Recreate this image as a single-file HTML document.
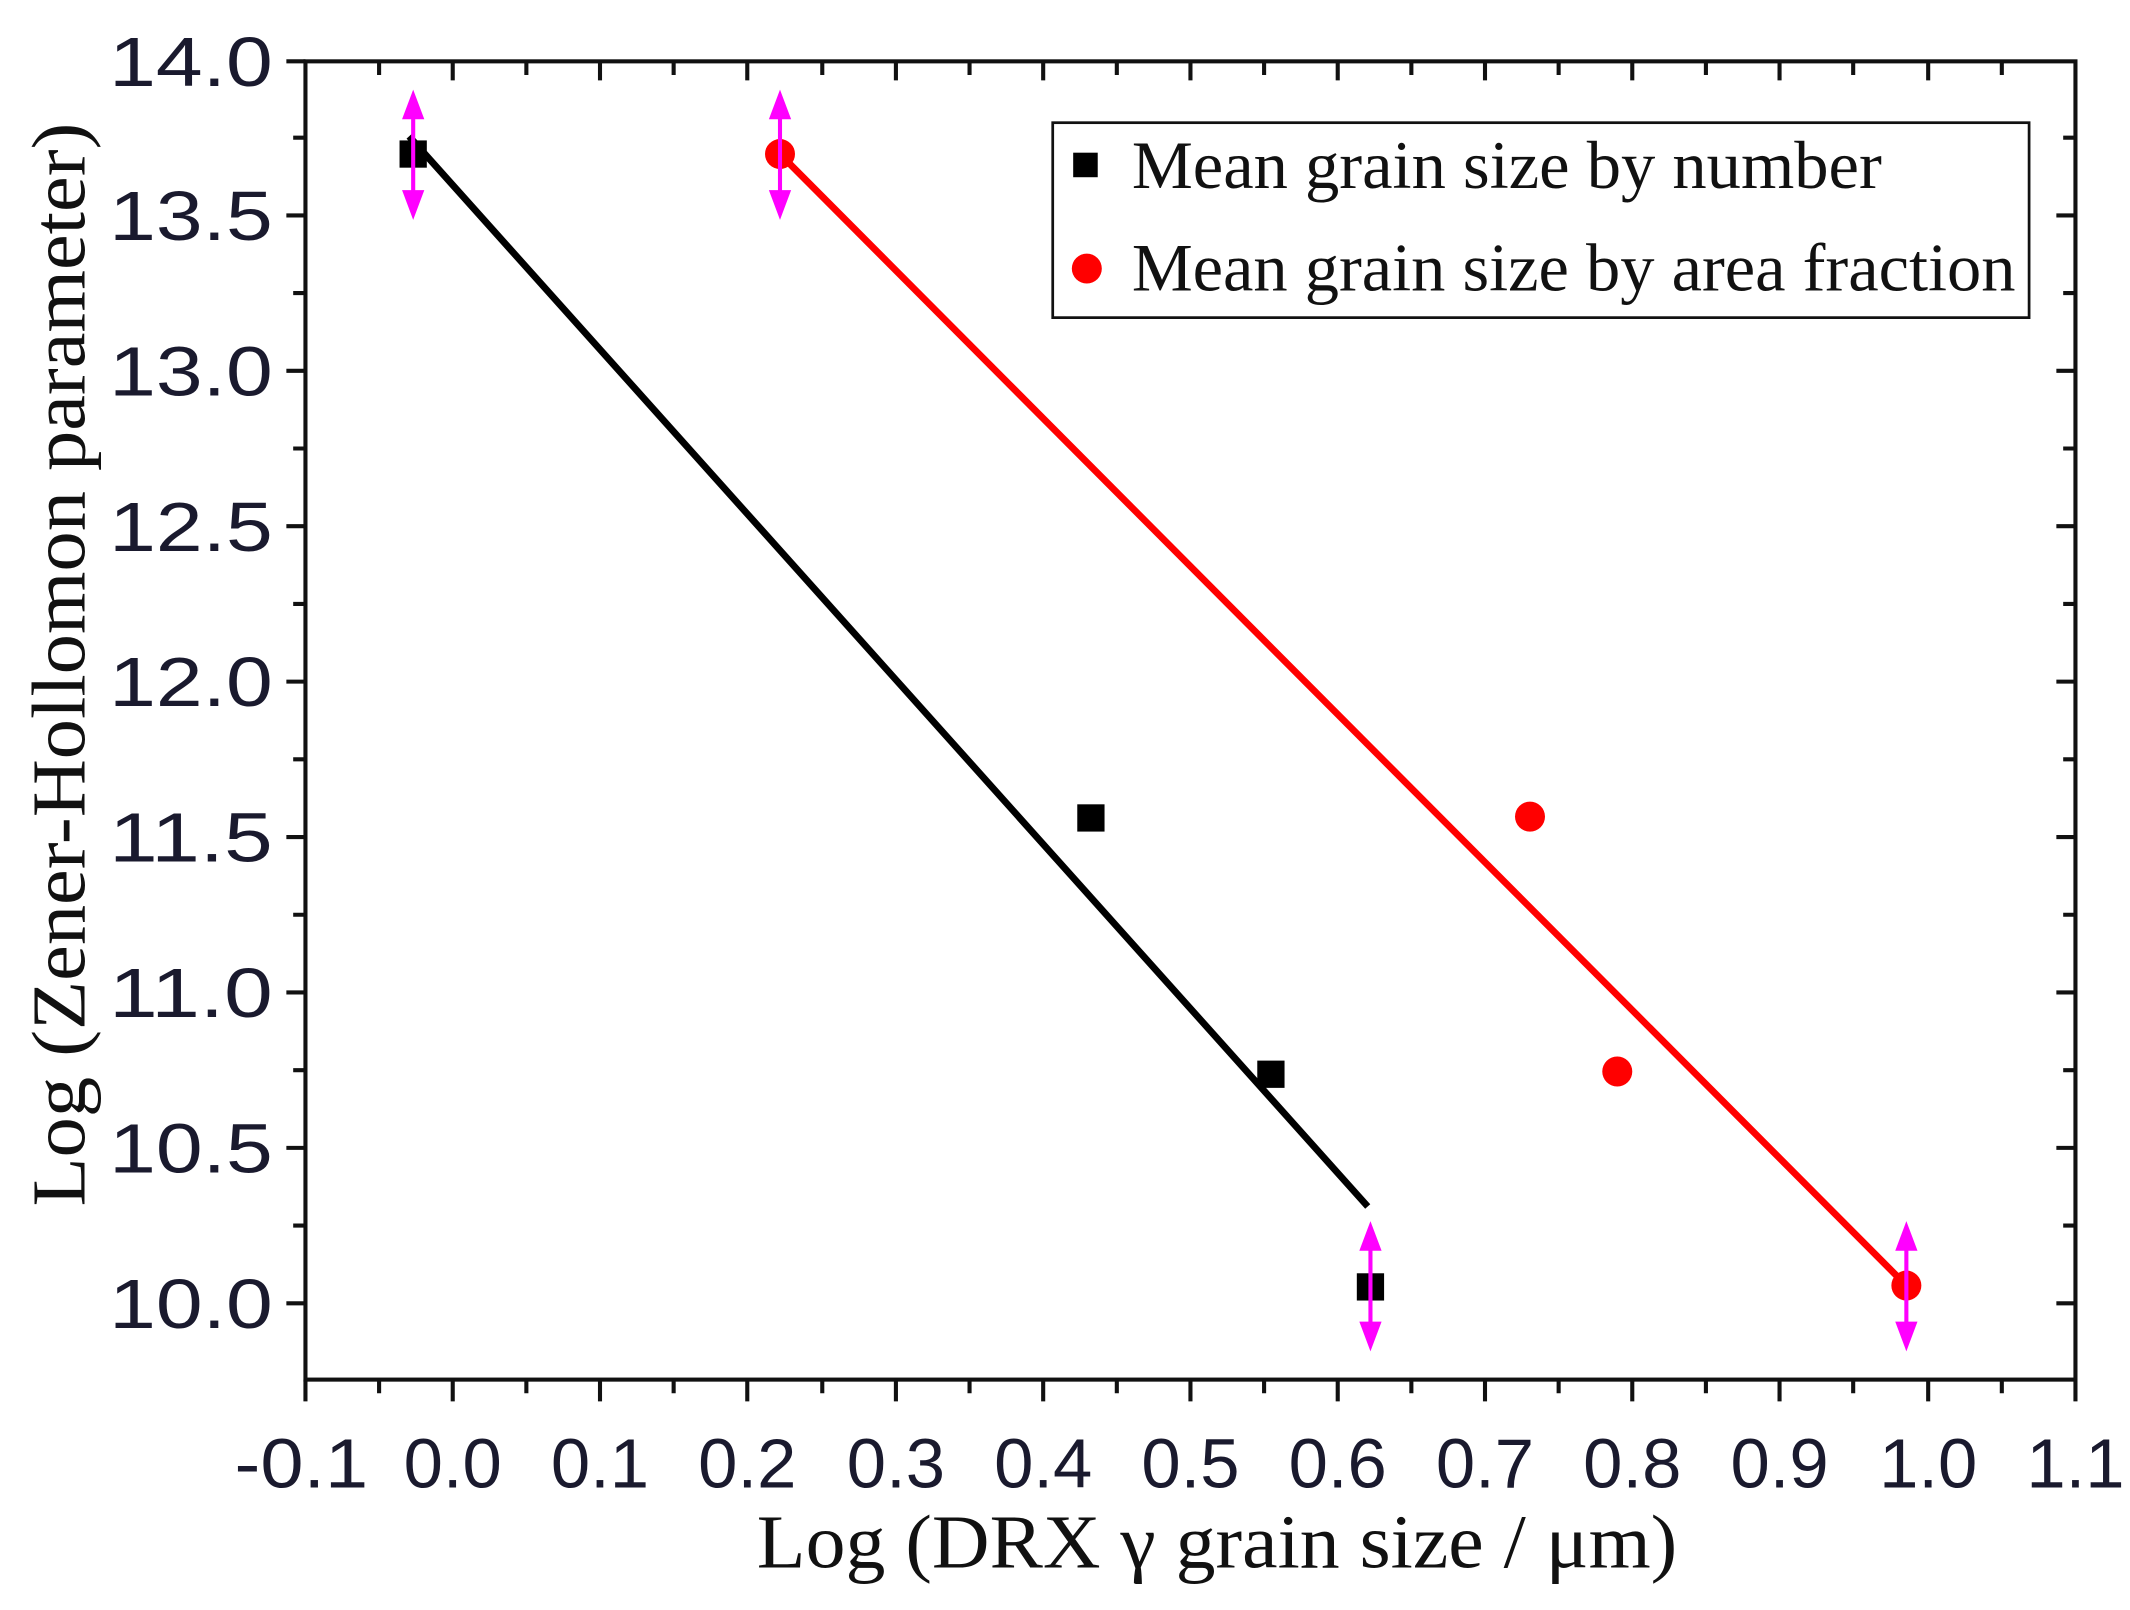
<!DOCTYPE html>
<html><head><style>html,body{margin:0;padding:0;background:#fff}svg{display:block}</style></head>
<body>
<svg width="2130" height="1610" viewBox="0 0 1562 1181" preserveAspectRatio="none" xmlns="http://www.w3.org/2000/svg">
<rect width="1562" height="1181" fill="#fff"/>
<g stroke="#111" stroke-width="3" fill="none">
<rect x="224" y="45" width="1298" height="967"/>
</g>
<g id="ticks" stroke="#111" stroke-width="3">
<path d="M224 1012v16M278 1012v10M332 1012v16M386 1012v10M440 1012v16M494 1012v10M548 1012v16M603 1012v10M657 1012v16M711 1012v10M765 1012v16M819 1012v10M873 1012v16M927 1012v10M981 1012v16M1035 1012v10M1089 1012v16M1143 1012v10M1197 1012v16M1251 1012v10M1305 1012v16M1359 1012v10M1414 1012v16M1468 1012v10M1522 1012v16"/>
<path d="M278 45v10M332 45v14M386 45v10M440 45v14M494 45v10M548 45v14M603 45v10M657 45v14M711 45v10M765 45v14M819 45v10M873 45v14M927 45v10M981 45v14M1035 45v10M1089 45v14M1143 45v10M1197 45v14M1251 45v10M1305 45v14M1359 45v10M1414 45v14M1468 45v10"/>
<path d="M224 45h-14M224 101h-9M224 158h-14M224 215h-9M224 272h-14M224 329h-9M224 386h-14M224 443h-9M224 500h-14M224 557h-9M224 614h-14M224 671h-9M224 728h-14M224 785h-9M224 842h-14M224 899h-9M224 956h-14"/>
<path d="M1522 101h-9M1522 158h-14M1522 215h-9M1522 272h-14M1522 329h-9M1522 386h-14M1522 443h-9M1522 500h-14M1522 557h-9M1522 614h-14M1522 671h-9M1522 728h-14M1522 785h-9M1522 842h-14M1522 899h-9M1522 956h-14"/>
</g>
<g font-family="Liberation Sans, sans-serif" font-size="51" fill="#1a1a2e">
<text x="80" y="63" textLength="120" lengthAdjust="spacingAndGlyphs">14.0</text>
<text x="80" y="176" textLength="120" lengthAdjust="spacingAndGlyphs">13.5</text>
<text x="80" y="290" textLength="120" lengthAdjust="spacingAndGlyphs">13.0</text>
<text x="80" y="404" textLength="120" lengthAdjust="spacingAndGlyphs">12.5</text>
<text x="80" y="518" textLength="120" lengthAdjust="spacingAndGlyphs">12.0</text>
<text x="80" y="632" textLength="120" lengthAdjust="spacingAndGlyphs">11.5</text>
<text x="80" y="746" textLength="120" lengthAdjust="spacingAndGlyphs">11.0</text>
<text x="80" y="860" textLength="120" lengthAdjust="spacingAndGlyphs">10.5</text>
<text x="80" y="974" textLength="120" lengthAdjust="spacingAndGlyphs">10.0</text>
</g>
<g font-family="Liberation Sans, sans-serif" font-size="51" fill="#1a1a2e">
<text x="172" y="1091" textLength="98" lengthAdjust="spacingAndGlyphs">-0.1</text>
<text x="296" y="1091" textLength="72" lengthAdjust="spacingAndGlyphs">0.0</text>
<text x="404" y="1091" textLength="72" lengthAdjust="spacingAndGlyphs">0.1</text>
<text x="512" y="1091" textLength="72" lengthAdjust="spacingAndGlyphs">0.2</text>
<text x="621" y="1091" textLength="72" lengthAdjust="spacingAndGlyphs">0.3</text>
<text x="729" y="1091" textLength="72" lengthAdjust="spacingAndGlyphs">0.4</text>
<text x="837" y="1091" textLength="72" lengthAdjust="spacingAndGlyphs">0.5</text>
<text x="945" y="1091" textLength="72" lengthAdjust="spacingAndGlyphs">0.6</text>
<text x="1053" y="1091" textLength="72" lengthAdjust="spacingAndGlyphs">0.7</text>
<text x="1161" y="1091" textLength="72" lengthAdjust="spacingAndGlyphs">0.8</text>
<text x="1269" y="1091" textLength="72" lengthAdjust="spacingAndGlyphs">0.9</text>
<text x="1378" y="1091" textLength="72" lengthAdjust="spacingAndGlyphs">1.0</text>
<text x="1486" y="1091" textLength="72" lengthAdjust="spacingAndGlyphs">1.1</text>
</g>
<text x="555" y="1150" textLength="675" lengthAdjust="spacingAndGlyphs" font-family="Liberation Serif, serif" font-size="56" fill="#111">Log (DRX γ grain size / μm)</text>
<text transform="translate(62,885) rotate(-90)" textLength="795" lengthAdjust="spacingAndGlyphs" font-family="Liberation Serif, serif" font-size="56" fill="#111">Log (Zener-Hollomon parameter)</text>
<line x1="300" y1="100" x2="1003" y2="885" stroke="#000" stroke-width="5"/>
<line x1="572" y1="113" x2="1398" y2="943" stroke="#f00" stroke-width="5"/>
<g fill="#000">
<rect x="293" y="103" width="20" height="20"/>
<rect x="790" y="590" width="20" height="20"/>
<rect x="922" y="778" width="20" height="20"/>
<rect x="995" y="934" width="20" height="20"/>
</g>
<g fill="#f00">
<circle cx="572" cy="113" r="11"/><circle cx="1122" cy="599" r="11"/>
<circle cx="1186" cy="786" r="11"/><circle cx="1398" cy="943" r="11"/>
</g>
<g stroke="#f0f" stroke-width="3" fill="#f0f">
<line x1="303" y1="72" x2="303" y2="155"/><path d="M297 86 303 70 309 86Z M297 141 303 157 309 141Z"/>
<line x1="572" y1="72" x2="572" y2="155"/><path d="M566 86 572 70 578 86Z M566 141 572 157 578 141Z"/>
<line x1="1005" y1="902" x2="1005" y2="985"/><path d="M999 916 1005 900 1011 916Z M999 971 1005 987 1011 971Z"/>
<line x1="1398" y1="902" x2="1398" y2="985"/><path d="M1392 916 1398 900 1404 916Z M1392 971 1398 987 1404 971Z"/>
</g>
<rect x="772" y="90" width="716" height="143" fill="#fff" stroke="#111" stroke-width="2"/>
<rect x="787" y="112" width="18" height="18" fill="#000"/>
<circle cx="797" cy="197" r="11" fill="#f00"/>
<g font-family="Liberation Serif, serif" font-size="50" fill="#111">
<text x="830" y="138" textLength="550" lengthAdjust="spacingAndGlyphs">Mean grain size by number</text>
<text x="830" y="213" textLength="648" lengthAdjust="spacingAndGlyphs">Mean grain size by area fraction</text>
</g>
</svg>
</body></html>
